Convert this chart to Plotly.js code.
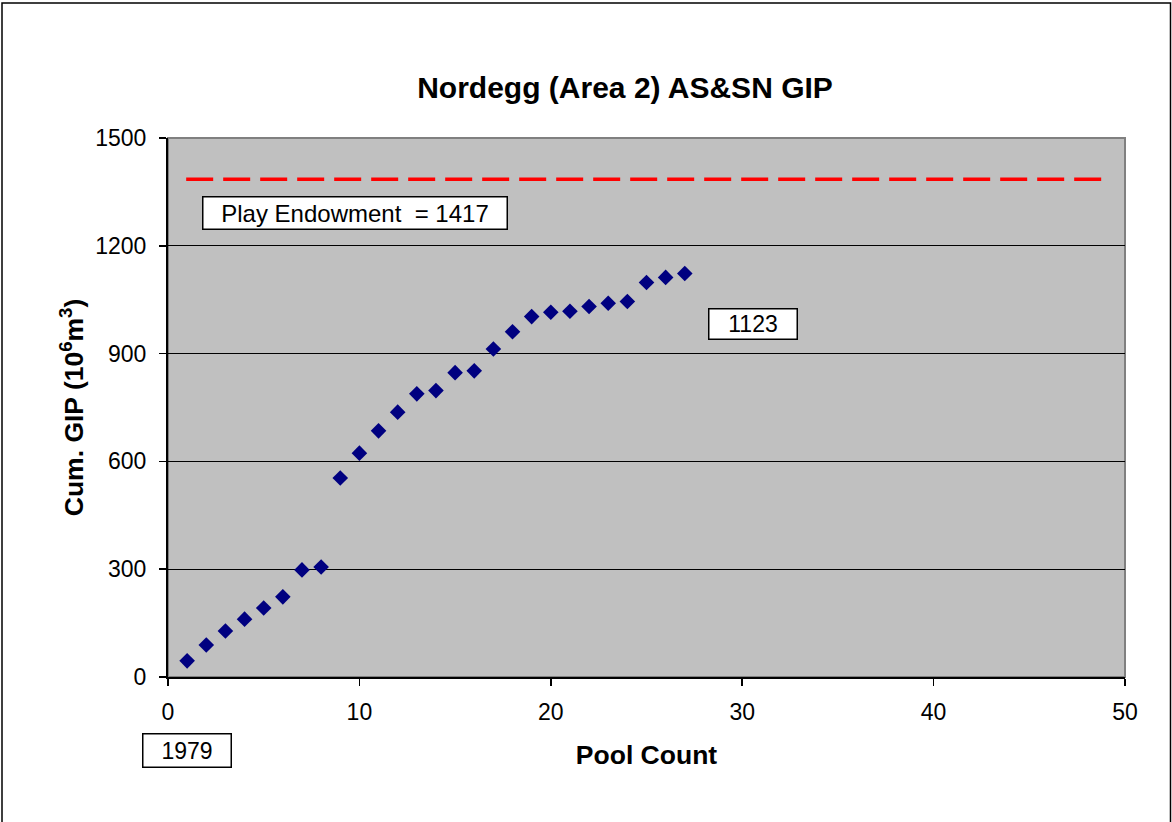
<!DOCTYPE html>
<html>
<head>
<meta charset="utf-8">
<script src="https://cdn.plot.ly/plotly-3.0.1.min.js"></script>
<style>
  html, body { margin: 0; padding: 0; background: #ffffff; }
  #chart { width: 1172px; height: 822px; }
</style>
</head>
<body>
<div id="chart"></div>
<script>
// ---- Data ----
const poolCount = [1, 2, 3, 4, 5, 6, 7, 8, 9, 10, 11, 12, 13, 14, 15, 16, 17, 18, 19, 20, 21, 22, 23, 24, 25, 26, 27];
const cumGIP = [45, 89, 128, 161, 192, 223, 298, 306, 554, 623, 685, 737, 788, 797, 847, 852, 913, 961, 1003, 1015, 1018, 1031, 1040, 1045, 1098, 1112, 1123];

const endowmentX = [0.95, 49.07];
const endowmentY = [1385, 1385];

const xTickVals = [0, 10, 20, 30, 40, 50];
const yTickVals = [0, 300, 600, 900, 1200, 1500];

const chartTitle = 'Nordegg (Area 2) AS&SN GIP';
const xTitle = 'Pool Count';
const yTitle = 'Cum. GIP (10<sup>6</sup>m<sup>3</sup>)';
const endowmentLabel = 'Play Endowment&nbsp;&nbsp;= 1417';
const lastValueLabel = '1123';
const startYearLabel = '1979';

const FONT = 'Arial, "Liberation Sans", sans-serif';

// plot area geometry (for paper-coordinate shapes)
const L = 168, R = 47, T = 138, B = 145, W = 1172, H = 822;
const pw = W - L - R, ph = H - T - B;
const px = v => (v - L) / pw;
const py = v => (H - B - v) / ph;

const traces = [
  {
    x: endowmentX, y: endowmentY,
    type: 'scatter', mode: 'lines',
    line: { color: '#FF0000', width: 3.5, dash: '27px,10px' },
    hoverinfo: 'skip', showlegend: false
  },
  {
    x: poolCount, y: cumGIP,
    type: 'scatter', mode: 'markers',
    marker: { symbol: 'diamond', size: 12, color: '#000080', line: { width: 0 } },
    showlegend: false
  }
];

const layout = {
  width: W, height: H,
  margin: { l: L, r: R, t: T, b: B, pad: 0 },
  paper_bgcolor: '#FFFFFF',
  plot_bgcolor: '#C0C0C0',
  showlegend: false,
  font: { family: FONT, color: '#000000', size: 23 },
  title: {
    text: '<b>' + chartTitle + '</b>',
    font: { family: FONT, size: 30, color: '#000000' },
    xref: 'container', x: 625 / W, xanchor: 'center',
    yref: 'container', y: 1 - 87 / H, yanchor: 'middle'
  },
  xaxis: {
    range: [0, 50],
    tickvals: xTickVals,
    ticks: 'outside', ticklen: 7, tickwidth: 1.5, tickcolor: '#000000',
    showline: true, linecolor: '#000000', linewidth: 2,
    showgrid: false, zeroline: false,
    tickfont: { family: FONT, size: 23, color: '#000000' },
    ticklabelstandoff: 6,
    title: { text: '<b>' + xTitle + '</b>', font: { family: FONT, size: 26.5, color: '#000000' }, standoff: 22 },
    automargin: false, fixedrange: true
  },
  yaxis: {
    range: [0, 1500],
    tickvals: yTickVals,
    ticks: 'outside', ticklen: 7, tickwidth: 1.5, tickcolor: '#000000',
    showline: true, linecolor: '#000000', linewidth: 2,
    showgrid: true, gridcolor: '#000000', gridwidth: 1,
    zeroline: false,
    tickfont: { family: FONT, size: 23, color: '#000000' },
    ticklabelstandoff: 8,
    title: { text: '<b>' + yTitle + '</b>', font: { family: FONT, size: 26.5, color: '#000000' }, standoff: 4 },
    automargin: false, fixedrange: true
  },
  shapes: [
    // plot area border (gray)
    { type: 'rect', xref: 'paper', yref: 'paper', x0: 0, x1: 1, y0: 0, y1: 1,
      line: { color: '#808080', width: 2 }, fillcolor: 'rgba(0,0,0,0)', layer: 'below' },
    // chart outer border
    { type: 'rect', xref: 'paper', yref: 'paper',
      x0: px(2), x1: px(1170.5), y0: py(840), y1: py(3),
      line: { color: '#000000', width: 1.5 }, fillcolor: 'rgba(0,0,0,0)' }
  ],
  annotations: [
    {
      text: endowmentLabel, xref: 'paper', yref: 'paper',
      x: px(355), y: py(213), xanchor: 'center', yanchor: 'middle',
      showarrow: false, font: { family: FONT, size: 24, color: '#000000' },
      bgcolor: '#FFFFFF', bordercolor: '#000000', borderwidth: 1.5, borderpad: 0,
      width: 303, height: 31, align: 'center'
    },
    {
      text: lastValueLabel, xref: 'paper', yref: 'paper',
      x: px(753), y: py(324), xanchor: 'center', yanchor: 'middle',
      showarrow: false, font: { family: FONT, size: 23, color: '#000000' },
      bgcolor: '#FFFFFF', bordercolor: '#000000', borderwidth: 1.5, borderpad: 0,
      width: 87, height: 29, align: 'center'
    },
    {
      text: startYearLabel, xref: 'paper', yref: 'paper',
      x: px(187), y: py(750.5), xanchor: 'center', yanchor: 'middle',
      showarrow: false, font: { family: FONT, size: 23, color: '#000000' },
      bgcolor: '#FFFFFF', bordercolor: '#000000', borderwidth: 1.5, borderpad: 0,
      width: 87, height: 32, align: 'center'
    }
  ]
};

Plotly.newPlot('chart', traces, layout, { displayModeBar: false, staticPlot: true });
</script>
</body>
</html>
